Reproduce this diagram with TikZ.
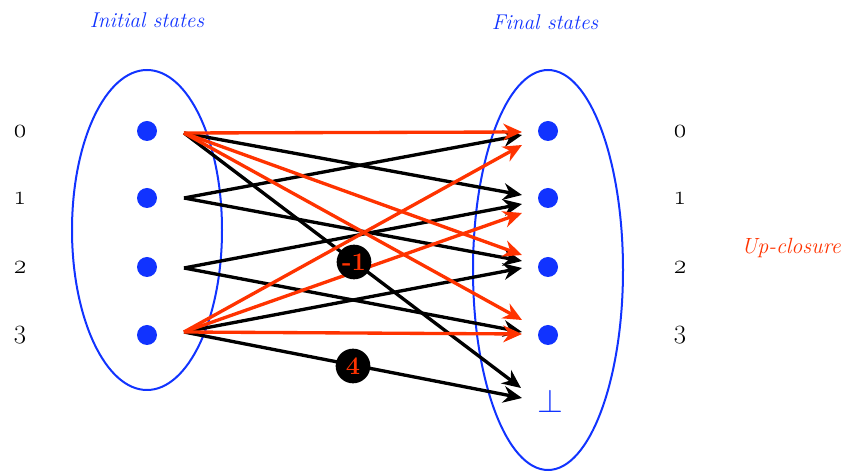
\documentclass[tikz,border=0pt]{standalone}
\usepackage{fontspec}
\setmainfont{Latin Modern Roman}
\usetikzlibrary{arrows.meta}
\definecolor{myblue}{RGB}{17,51,255}
\definecolor{myred}{RGB}{255,51,0}
\begin{document}
\begin{tikzpicture}[x=0.75pt,y=-0.75pt,
  dot/.style={circle,fill=myblue,inner sep=0pt,minimum size=15pt},
  num/.style={font=\fontsize{20}{22}\selectfont\addfontfeatures{Numbers=OldStyle}},
  title/.style={font=\fontsize{16}{18}\selectfont\itshape,text=myblue},
  arr/.style={line width=2.5pt,-{Stealth[length=14pt,width=12.5pt,inset=4.5pt]}},
  blk/.style={arr,black},
  rd/.style={arr,myred},
  badge/.style={circle,fill=black,inner sep=0pt,minimum size=26pt,text=myred,font=\bfseries\fontsize{19}{21}\selectfont},
  ell/.style={draw=myblue,line width=1.5pt}
]
\useasboundingbox (0,0) rectangle (843,473);
% ellipses
\draw[ell] (147,230) ellipse [x radius=75, y radius=160];
\draw[ell] (548,270) ellipse [x radius=75, y radius=200];
% titles
\node[title] (ti) at (147,20) {Initial states};
\node[title] (tf) at (545,22) {Final states};
\node[font=\fontsize{16.5}{18}\selectfont\itshape,text=myred] (up) at (791,248) {Up-closure};
% dots
\foreach \i/\y in {0/131,1/198,2/267,3/335}{
  \node[dot] (l\i) at (147,\y) {};
  \node[dot] (r\i) at (548,\y) {};
}
\node[text=myblue,font=\fontsize{24}{26}\selectfont] (bot) at (550,401) {$\bot$};
% numbers
\foreach \i/\y in {0/132,1/198,2/267,3/335}{
  \node[num] (nl\i) at (20,\y) {\i};
  \node[num] (nr\i) at (680,\y) {\i};
}
% source coordinates
\coordinate (s0) at (184,133);
\coordinate (s1) at (184,198);
\coordinate (s2) at (184,268);
\coordinate (s3) at (184,332);
% targets
\coordinate (t00) at (522,132);
\coordinate (t10) at (522,135);
\coordinate (t30) at (522,145);
\coordinate (t01) at (522,195);
\coordinate (t21) at (522,204);
\coordinate (t31) at (522,213);
\coordinate (t02) at (522,255);
\coordinate (t12) at (522,261);
\coordinate (t32) at (522,268);
\coordinate (t03) at (522,320);
\coordinate (t23) at (522,332);
\coordinate (t33) at (522,334);
\coordinate (t0b) at (521,388);
\coordinate (t3b) at (522,398);
% black arrows
\draw[blk] (s0) -- (t01);
\draw[blk] (s0) -- (t0b);
\draw[blk] (s1) -- (t10);
\draw[blk] (s1) -- (t12);
\draw[blk] (s2) -- (t21);
\draw[blk] (s2) -- (t23);
\draw[blk] (s3) -- (t32);
\draw[blk] (s3) -- (t3b);
% red arrows
\draw[rd] (s0) -- (t00);
\draw[rd] (s0) -- (t02);
\draw[rd] (s0) -- (t03);
\draw[rd] (s3) -- (t30);
\draw[rd] (s3) -- (t31);
\draw[rd] (s3) -- (t33);
% badges
\node[badge] (bm1) at (354,262) {-1};
\node[badge] (b4) at (353,366) {4};
\end{tikzpicture}
\end{document}
